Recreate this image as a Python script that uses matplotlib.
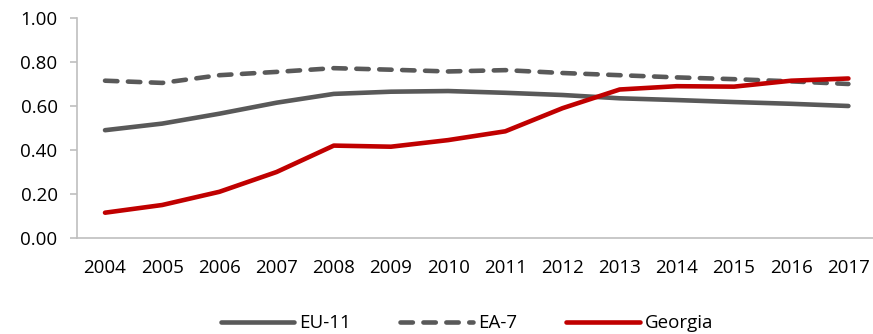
import numpy as np
import matplotlib.pyplot as plt

plt.rcParams['font.family'] = ['Open Sans', 'DejaVu Sans']

years = [2004, 2005, 2006, 2007, 2008, 2009, 2010, 2011, 2012, 2013, 2014, 2015, 2016, 2017]
eu11 = [0.49, 0.52, 0.565, 0.615, 0.655, 0.665, 0.668, 0.66, 0.65, 0.635, 0.627, 0.618, 0.61, 0.60]
ea7 = [0.715, 0.705, 0.74, 0.755, 0.772, 0.765, 0.757, 0.763, 0.75, 0.74, 0.73, 0.722, 0.712, 0.70]
georgia = [0.115, 0.15, 0.21, 0.30, 0.42, 0.415, 0.445, 0.485, 0.59, 0.675, 0.69, 0.688, 0.715, 0.725]

grey = '#595959'
red = '#C00000'
fs = 13.5

fig = plt.figure(figsize=(8.73, 3.34), dpi=100)
ax = fig.add_axes([77/873, 1-238/334, 796/873, 220/334])

x = np.arange(len(years))
ax.plot(x, eu11, color=grey, lw=3.3, solid_capstyle='round', label='EU-11')
ax.plot(x, ea7, color=grey, lw=3.3, ls=(0, (2.7, 2.3)), dash_capstyle='round', label='EA-7')
ax.plot(x, georgia, color=red, lw=3.3, solid_capstyle='round', label='Georgia')

ax.set_xlim(-0.49, 13.43)
ax.set_ylim(0, 1.0)
ax.set_yticks(np.arange(0, 1.01, 0.2))
ax.set_yticklabels(['%.2f' % v for v in np.arange(0, 1.01, 0.2)])
ax.set_xticks(x)
ax.set_xticklabels([str(y) for y in years])

for s in ['top', 'right']:
    ax.spines[s].set_visible(False)
for s in ['left', 'bottom']:
    ax.spines[s].set_color('#BFBFBF')
    ax.spines[s].set_linewidth(1.2)
ax.tick_params(axis='y', length=5, color='#BFBFBF', width=1.2, labelsize=fs, pad=9)
ax.tick_params(axis='x', length=0, labelsize=fs, pad=15)

fig.legend(loc='lower center', bbox_to_anchor=(0.535, -0.045), ncol=3, frameon=False,
           fontsize=fs, handlelength=3.9, columnspacing=2.6, handletextpad=0.3)

fig.savefig('out.png', dpi=100)
